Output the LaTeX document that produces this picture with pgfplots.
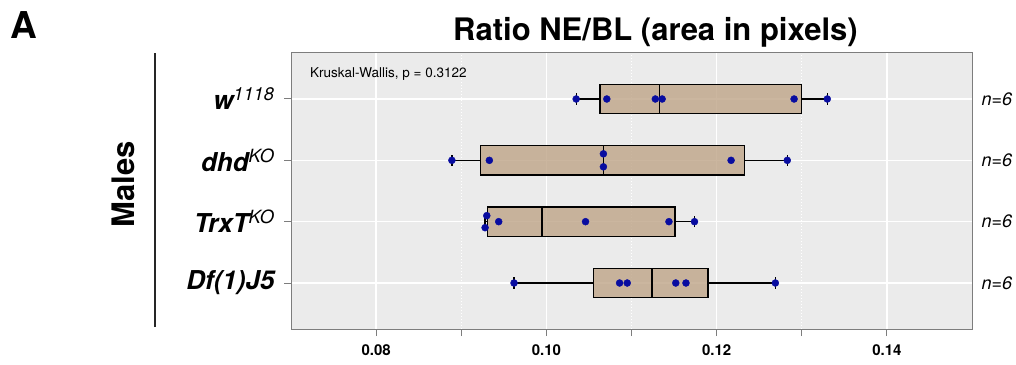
\documentclass[border=0pt]{standalone}
\usepackage{pgfplots}
\pgfplotsset{compat=1.18}
\usepgfplotslibrary{statistics}
\usepackage{fontspec}
\setmainfont{TeX Gyre Heros}
\definecolor{boxfill}{RGB}{191,164,135}
\definecolor{ptblue}{RGB}{8,12,160}
\definecolor{panelbg}{RGB}{235,235,235}
\definecolor{framegray}{RGB}{125,125,125}
\newcommand{\supmd}[1]{\textmd{\textsuperscript{#1}}}
\begin{document}
\begin{tikzpicture}[x=1pt,y=1pt]
\useasboundingbox (0,0) rectangle (1016,364);
\node[anchor=base west, inner sep=0pt, font=\fontsize{37}{40}\selectfont\bfseries] at (10,325) {A};
\node[anchor=base, inner sep=0pt, font=\fontsize{31}{36}\selectfont\bfseries] at (655.5,323) {Ratio NE/BL (area in pixels)};
\node[anchor=base, inner sep=0pt, rotate=90, font=\fontsize{31}{36}\selectfont\bfseries] at (134,180) {Males};
\draw[line width=1.3pt, black!85] (155,37) -- (155,311);
\begin{axis}[
  at={(291pt,35pt)}, anchor=south west,
  scale only axis, width=681pt, height=276pt,
  xmin=0.07, xmax=0.15, ymin=0.25, ymax=4.75,
  axis background/.style={fill=panelbg},
  axis line style={framegray, line width=1pt},
  xtick={0.08,0.10,0.12,0.14}, xticklabels={0.08,0.10,0.12,0.14},
  minor xtick={0.09,0.11,0.13},
  ytick={1,2,3,4},
  yticklabels={Df(1)J5, TrxT\supmd{KO}, dhd\supmd{KO}, w\supmd{1118}},
  tick align=outside, tick pos=left,
  major tick length=7pt, minor tick length=7pt,
  tick style={framegray, line width=1pt},
  minor tick style={framegray, line width=1pt},
  grid=both,
  major grid style={white, line width=1.5pt},
  minor grid style={white, line width=1pt, dotted},
  xticklabel style={font=\fontsize{15}{18}\selectfont\bfseries, yshift=-5pt},
  yticklabel style={font=\fontsize{26}{30}\selectfont\bfseries\itshape, anchor=east, xshift=-6pt},
  clip=false,
]
\addplot[draw=black, line width=1.3pt, fill=boxfill, fill opacity=0.8,
  boxplot prepared={draw direction=x, draw position=4, box extend=0.48, whisker extend=0.18,
  lower whisker=0.1035, lower quartile=0.1063, median=0.1133, upper quartile=0.1300, upper whisker=0.1330}] coordinates {};
\addplot[draw=black, line width=1.3pt, fill=boxfill, fill opacity=0.8,
  boxplot prepared={draw direction=x, draw position=3, box extend=0.48, whisker extend=0.18,
  lower whisker=0.0889, lower quartile=0.0923, median=0.1067, upper quartile=0.1233, upper whisker=0.1283}] coordinates {};
\addplot[draw=black, line width=1.3pt, fill=boxfill, fill opacity=0.8,
  boxplot prepared={draw direction=x, draw position=2, box extend=0.48, whisker extend=0.18,
  lower whisker=0.0928, lower quartile=0.0931, median=0.0995, upper quartile=0.1151, upper whisker=0.1174}] coordinates {};
\addplot[draw=black, line width=1.3pt, fill=boxfill, fill opacity=0.8,
  boxplot prepared={draw direction=x, draw position=1, box extend=0.48, whisker extend=0.18,
  lower whisker=0.0962, lower quartile=0.1055, median=0.1124, upper quartile=0.1190, upper whisker=0.1269}] coordinates {};
\addplot[only marks, mark=*, mark size=3.5pt, ptblue, mark options={draw=ptblue, fill=ptblue}] coordinates {
(0.1035,4) (0.1071,4) (0.1128,4) (0.1136,4) (0.1291,4) (0.1330,4)
(0.0889,3) (0.0933,3) (0.1067,3.106) (0.1067,2.894) (0.1217,3) (0.1283,3)
(0.0928,1.902) (0.0930,2.098) (0.0944,2) (0.1046,2) (0.1144,2) (0.1174,2)
(0.0962,1) (0.1086,1) (0.1095,1) (0.1152,1) (0.1164,1) (0.1269,1)
};
\node[anchor=base west, inner sep=0pt, font=\fontsize{13.5}{16}\selectfont] at (rel axis cs:0.0279,0.9105) {Kruskal-Wallis, p = 0.3122};
\node[anchor=west, inner sep=0pt, font=\fontsize{18}{21}\selectfont\itshape] at (axis cs:0.1511,1) {n=6};
\node[anchor=west, inner sep=0pt, font=\fontsize{18}{21}\selectfont\itshape] at (axis cs:0.1511,2) {n=6};
\node[anchor=west, inner sep=0pt, font=\fontsize{18}{21}\selectfont\itshape] at (axis cs:0.1511,3) {n=6};
\node[anchor=west, inner sep=0pt, font=\fontsize{18}{21}\selectfont\itshape] at (axis cs:0.1511,4) {n=6};
\end{axis}
\end{tikzpicture}
\end{document}
